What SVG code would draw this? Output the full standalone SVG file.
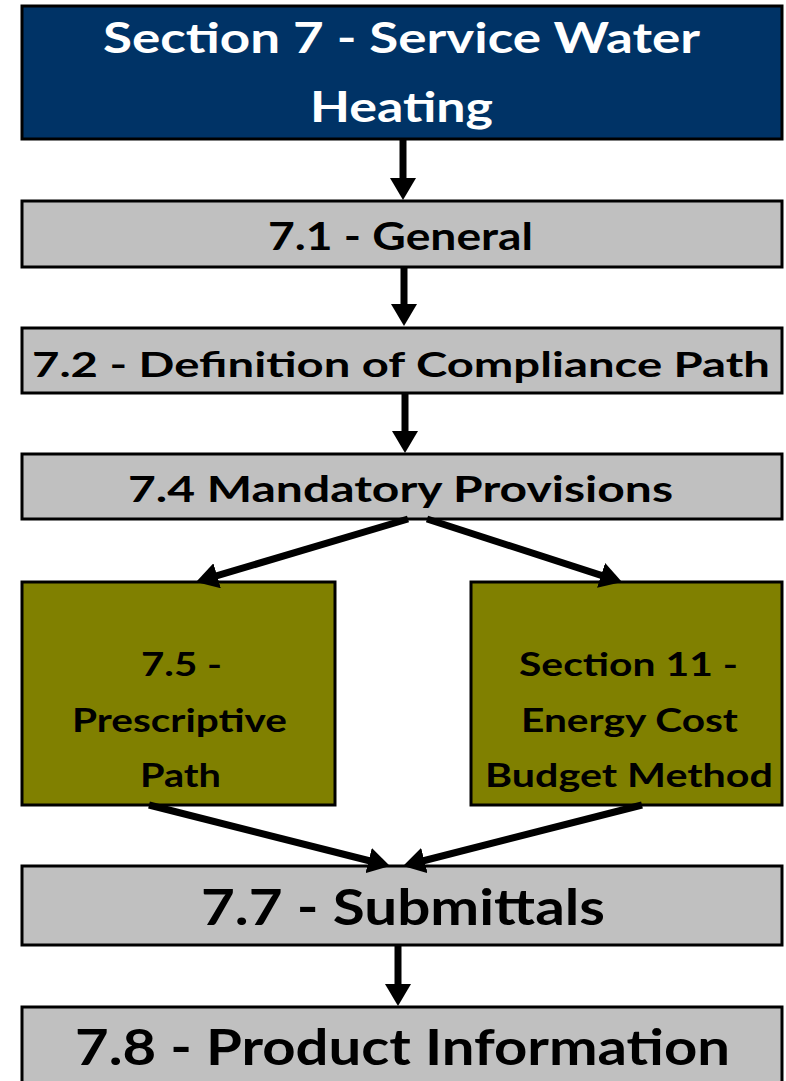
<svg xmlns="http://www.w3.org/2000/svg" width="786" height="1081" viewBox="0 0 786 1081">
  <style>
    .box { stroke: #000; stroke-width: 3; }
    .navy { fill: #003366; }
    .grey { fill: #c0c0c0; }
    .olive { fill: #808000; }
    text { font-family: Lato, "Open Sans", "Liberation Sans", sans-serif; font-weight: bold; text-anchor: middle; }
    .light { fill: #fff; }
    .dark { fill: #000; }
    .conn { stroke: #000; stroke-width: 7; fill: none; marker-end: url(#head); }
  </style>
  <defs>
    <marker id="head" markerUnits="userSpaceOnUse" markerWidth="22" markerHeight="26" refX="14" refY="13" orient="auto">
      <path d="M0,0 L22,13 L0,26 z" fill="#000"/>
    </marker>
  </defs>

  <g id="node-section7">
    <rect class="box navy" x="22" y="6" width="760" height="133"/>
    <text class="light" x="401.5" y="53" font-size="42" textLength="597" lengthAdjust="spacingAndGlyphs">Section 7 - Service Water</text>
    <text class="light" x="401.5" y="122" font-size="42" textLength="183" lengthAdjust="spacingAndGlyphs">Heating</text>
  </g>

  <g id="node-7-1">
    <rect class="box grey" x="22" y="201" width="760" height="66"/>
    <text class="dark" x="400.5" y="250" font-size="38" textLength="265" lengthAdjust="spacingAndGlyphs">7.1 - General</text>
  </g>

  <g id="node-7-2">
    <rect class="box grey" x="22" y="328" width="760" height="65"/>
    <text class="dark" x="401" y="377" font-size="35" textLength="738" lengthAdjust="spacingAndGlyphs">7.2 - Definition of Compliance Path</text>
  </g>

  <g id="node-7-4">
    <rect class="box grey" x="22" y="454" width="760" height="65"/>
    <text class="dark" x="400.5" y="502" font-size="36" textLength="545" lengthAdjust="spacingAndGlyphs">7.4 Mandatory Provisions</text>
  </g>

  <g id="node-7-5">
    <rect class="box olive" x="22" y="582" width="313" height="223"/>
    <text class="dark" x="181.5" y="676" font-size="32" textLength="81" lengthAdjust="spacingAndGlyphs">7.5 -</text>
    <text class="dark" x="179.5" y="732" font-size="32" textLength="215" lengthAdjust="spacingAndGlyphs">Prescriptive</text>
    <text class="dark" x="180.5" y="787" font-size="32" textLength="81" lengthAdjust="spacingAndGlyphs">Path</text>
  </g>

  <g id="node-section11">
    <rect class="box olive" x="471" y="582" width="311" height="223"/>
    <text class="dark" x="628.5" y="676" font-size="32" textLength="219" lengthAdjust="spacingAndGlyphs">Section 11 -</text>
    <text class="dark" x="629.5" y="732" font-size="32" textLength="217" lengthAdjust="spacingAndGlyphs">Energy Cost</text>
    <text class="dark" x="629" y="787" font-size="32" textLength="288" lengthAdjust="spacingAndGlyphs">Budget Method</text>
  </g>

  <g id="node-7-7">
    <rect class="box grey" x="22" y="866" width="760" height="79"/>
    <text class="dark" x="403" y="925" font-size="49" textLength="404" lengthAdjust="spacingAndGlyphs">7.7 - Submittals</text>
  </g>

  <g id="node-7-8">
    <rect class="box grey" x="22" y="1007" width="760" height="100"/>
    <text class="dark" x="402.5" y="1065" font-size="49" textLength="655" lengthAdjust="spacingAndGlyphs">7.8 - Product Information</text>
  </g>

  <g id="connectors">
    <path class="conn" d="M403,140 L403,192"/>
    <path class="conn" d="M404,268 L404,318"/>
    <path class="conn" d="M405,394 L405,445"/>
    <path class="conn" d="M408,519 L203.7,579.7"/>
    <path class="conn" d="M427,519 L614.4,579.6"/>
    <path class="conn" d="M149,805 L382.2,864"/>
    <path class="conn" d="M642,805 L410.8,864"/>
    <path class="conn" d="M398,946 L398,998"/>
  </g>
</svg>
